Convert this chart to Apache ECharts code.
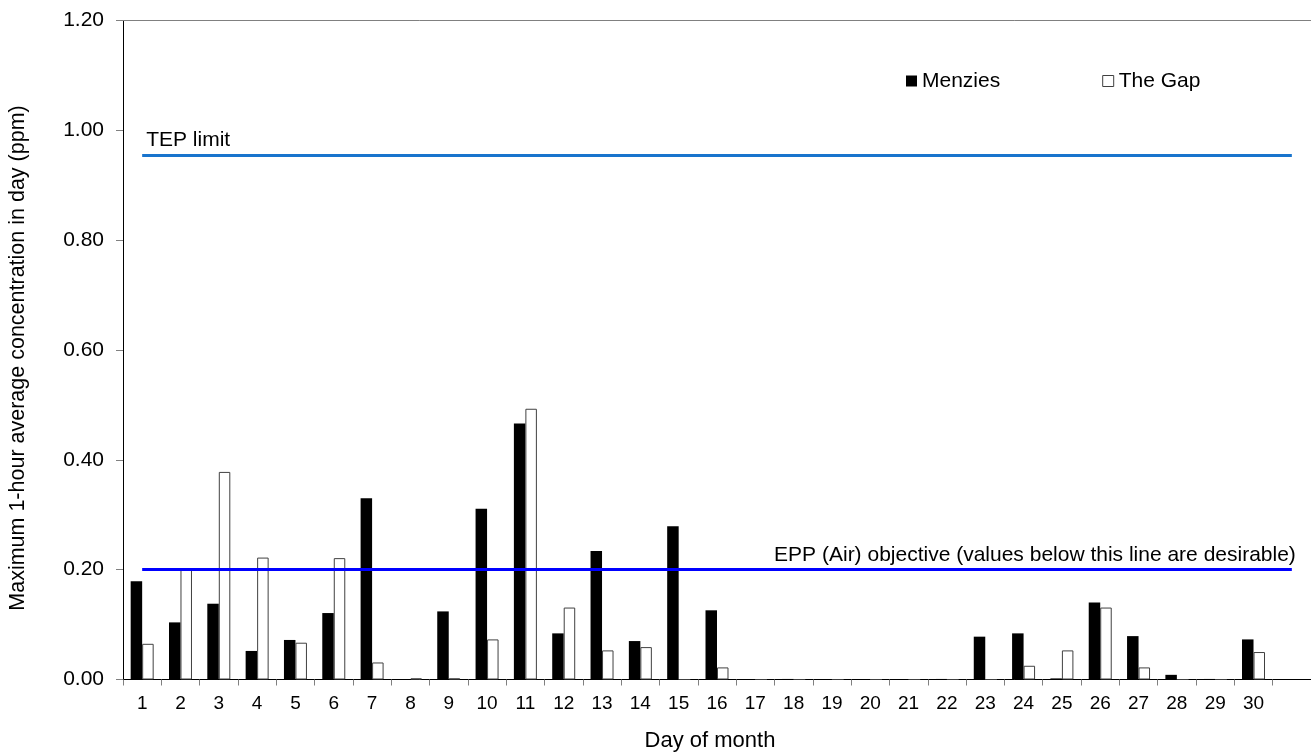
<!DOCTYPE html>
<html>
<head>
<meta charset="utf-8">
<script src="https://cdn.jsdelivr.net/npm/echarts@6/dist/echarts.min.js"></script>
<style>
html,body{margin:0;padding:0;background:#fff;}
#chart{width:1311px;height:754px;}
</style>
</head>
<body>
<div id="chart"></div>
<script>
const days = ['1','2','3','4','5','6','7','8','9','10','11','12','13','14','15','16','17','18','19','20','21','22','23','24','25','26','27','28','29','30',''];
const menzies = [0.179,0.104,0.138,0.052,0.072,0.121,0.330,0,0.124,0.311,0.466,0.084,0.234,0.070,0.279,0.126,0,0.001,0,0,0,0.001,0.078,0.084,0.002,0.140,0.079,0.0085,0.001,0.073,null];
const theGap = [0.065,0.203,0.378,0.222,0.067,0.221,0.031,0.002,0.002,0.073,0.493,0.131,0.053,0.059,0,0.022,0,0,0,0,0,0,0,0.025,0.053,0.131,0.022,0,0,0.050,null];
const yTicks = [0,0.2,0.4,0.6,0.8,1.0,1.2];
const tepLimit = 0.955;
const eppObjective = 0.2;
const tepLabel = 'TEP limit';
const eppLabel = 'EPP (Air) objective (values below this line are desirable)';
const xTitle = 'Day of month';
const yTitle = 'Maximum 1-hour average concentration in day (ppm)';

const FONT = '"Liberation Sans", Arial, Helvetica, sans-serif';
const chart = echarts.init(document.getElementById('chart'), null, {renderer:'canvas'});
const lastIdx = days.length - 1;

chart.setOption({
  animation: false,
  backgroundColor: '#fff',
  textStyle: {fontFamily: FONT},
  grid: {left: 123, right: 0, top: 20.5, bottom: 74.5, containLabel: false},
  legend: {
    left: 906, top: 70.5, padding: 0,
    itemWidth: 11, itemHeight: 11, itemGap: 102,
    textStyle: {fontFamily: FONT, fontSize: 21, color: '#000'},
    data: [
      {name: 'Menzies', icon: 'rect', itemStyle: {color: '#000', borderWidth: 0}},
      {name: 'The Gap', icon: 'rect', itemStyle: {color: '#fff', borderColor: '#404040', borderWidth: 1}}
    ]
  },
  xAxis: [{
    type: 'category',
    data: days,
    boundaryGap: true,
    position: 'bottom',
    axisLine: {show: true, lineStyle: {color: '#000', width: 1}},
    axisTick: {show: true, length: 6, alignWithLabel: false, interval: 0, lineStyle: {color: '#808080'}},
    axisLabel: {interval: 0, margin: 15, fontFamily: FONT, fontSize: 19, color: '#000'},
    splitLine: {show: false}
  }, {
    type: 'category',
    data: days,
    position: 'top',
    axisLine: {show: true, lineStyle: {color: '#808080', width: 1}},
    axisTick: {show: false},
    axisLabel: {show: false},
    splitLine: {show: false}
  }],
  yAxis: {
    type: 'value',
    min: yTicks[0], max: yTicks[yTicks.length-1], interval: 0.2,
    axisLine: {show: true, lineStyle: {color: '#000', width: 1}},
    axisTick: {show: true, length: 7, lineStyle: {color: '#808080'}},
    axisLabel: {margin: 19, fontFamily: FONT, fontSize: 21, color: '#000', formatter: v => v.toFixed(2)},
    splitLine: {show: false}
  },
  series: [{
    name: 'Menzies',
    type: 'bar',
    data: menzies,
    barWidth: '30%',
    barGap: '0%',
    itemStyle: {color: '#000'}
  }, {
    name: 'The Gap',
    type: 'bar',
    data: theGap,
    barWidth: '30%',
    barGap: '0%',
    itemStyle: {color: '#fff', borderColor: '#404040', borderWidth: 1}
  }, {
    name: 'TEP',
    type: 'line',
    data: [],
    silent: true,
    markLine: {
      silent: true, symbol: ['none','none'],
      lineStyle: {color: '#1874CD', width: 3, type: 'solid'},
      label: {show: true, position: 'insideStartTop', formatter: tepLabel, distance: [4, 4], fontFamily: FONT, fontSize: 21, color: '#000'},
      data: [[{coord: [0, tepLimit]}, {coord: [lastIdx, tepLimit]}]]
    }
  }, {
    name: 'EPP',
    type: 'line',
    data: [],
    silent: true,
    markLine: {
      silent: true, symbol: ['none','none'],
      lineStyle: {color: '#0000FF', width: 3, type: 'solid'},
      label: {show: true, position: 'insideEndTop', formatter: eppLabel, distance: [-4, 4], fontFamily: FONT, fontSize: 21, color: '#000'},
      data: [[{coord: [0, eppObjective]}, {coord: [lastIdx, eppObjective]}]]
    }
  }],
  graphic: [{
    type: 'text', x: 710, y: 741,
    style: {text: xTitle, font: '22px ' + FONT, fill: '#000', textAlign: 'center', textVerticalAlign: 'middle'}
  }, {
    type: 'text', x: 18, y: 358, rotation: Math.PI/2,
    style: {text: yTitle, font: '21.5px ' + FONT, fill: '#000', textAlign: 'center', textVerticalAlign: 'middle'}
  }]
});
</script>
</body>
</html>
